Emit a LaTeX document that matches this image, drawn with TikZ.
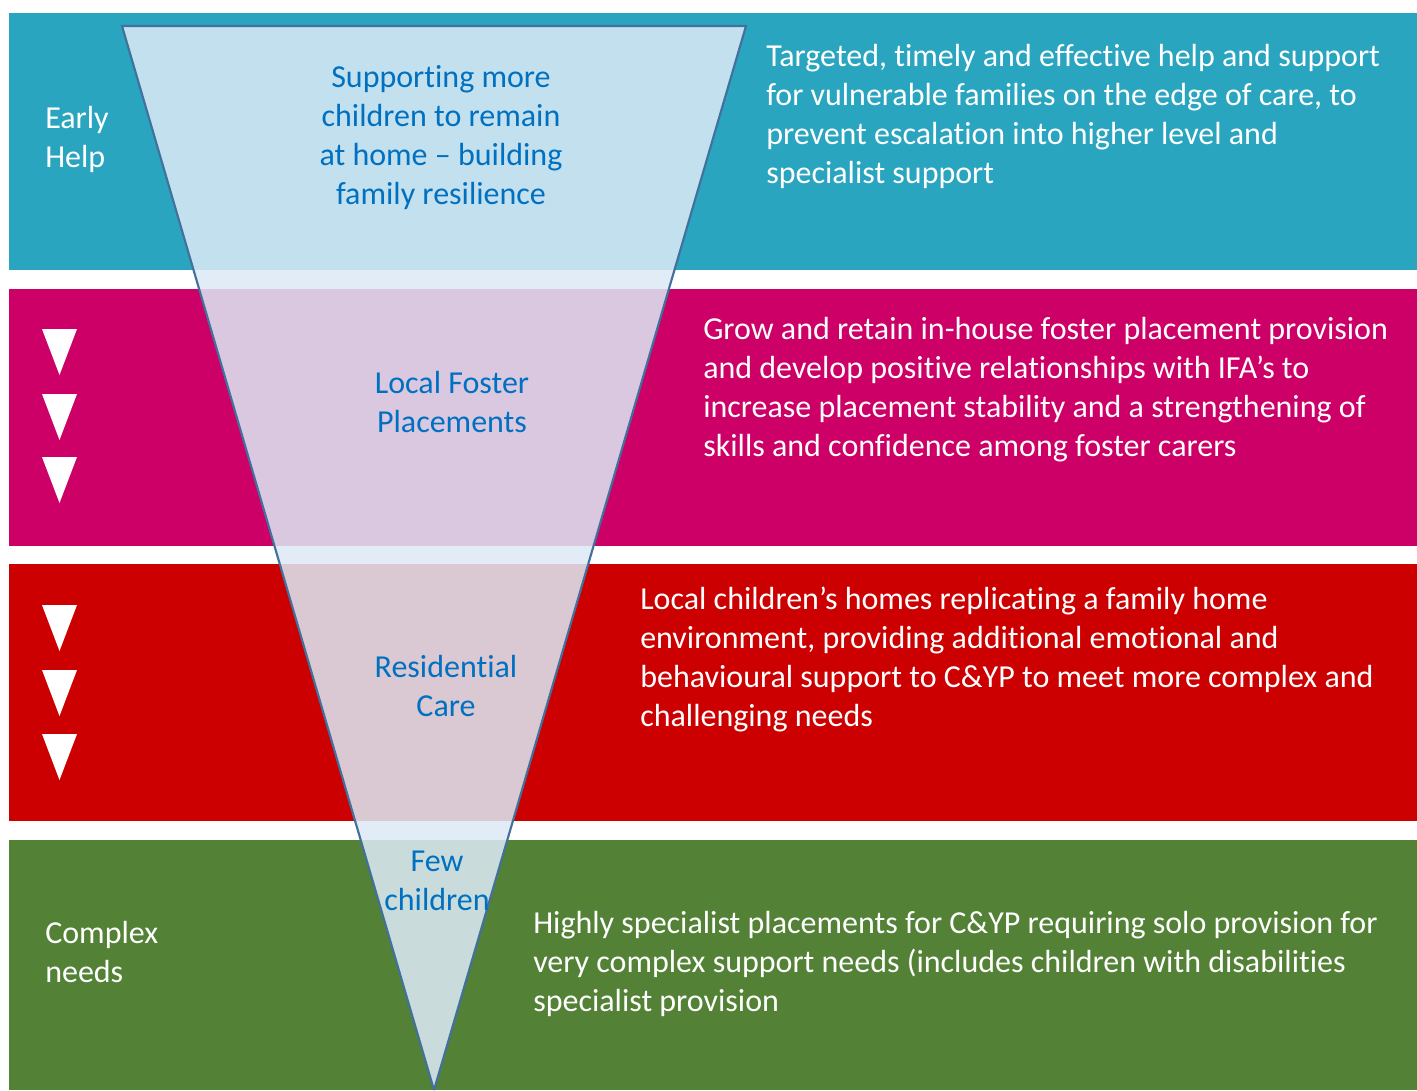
\documentclass[tikz,border=0pt]{standalone}
\usepackage{fontspec}
\setmainfont{Carlito}[Ligatures={NoCommon}]
\definecolor{bteal}{HTML}{2AA5BF}
\definecolor{bmag}{HTML}{CC0066}
\definecolor{bred}{HTML}{CC0000}
\definecolor{bgreen}{HTML}{538135}
\definecolor{funfill}{HTML}{DDEAF6}
\definecolor{funedge}{HTML}{41719C}
\definecolor{funtext}{HTML}{0070C0}
\begin{document}
\begin{tikzpicture}[x=0.75pt,y=-0.75pt,
  band/.style={fill=#1},
  txt/.style={font=\fontsize{24}{29.25}\selectfont, text=white, inner sep=0pt, align=left, anchor=base west},
  ftxt/.style={font=\fontsize{24}{29.25}\selectfont, text=funtext, inner sep=0pt, align=center, anchor=base},
  downarrow/.style={fill=white}]
\useasboundingbox (0,0) rectangle (1417,1090);
\fill[white] (0,0) rectangle (1417,1090);
% bands
\fill[band=bteal] (9,13) rectangle (1417,270);
\fill[band=bmag] (9,289) rectangle (1417,546);
\fill[band=bred] (9,564) rectangle (1417,821);
\fill[band=bgreen] (9,840) rectangle (1417,1090);
% down arrows
\foreach \t in {329,394,457,605,670,734}
  \fill[downarrow] (42,\t) -- (77,\t) -- (59.5,\t+46) -- cycle;
% funnel
\coordinate (tl) at (122,26);
\coordinate (tr) at (746,26);
\coordinate (ap) at (434,1090);
\fill[funfill, fill opacity=0.86] (tl) -- (tr) -- (ap) -- cycle;
\draw[funedge, line width=1.6pt, line join=miter] (ap) -- (tl) -- (tr) -- (ap);
% left labels (anchor = baseline of last line)
\node[txt] (early) at (45,167) {Early\\Help};
\node[txt] (complex) at (45,982) {Complex\\needs};
% funnel labels
\node[ftxt] (f1) at (441,204) {Supporting more\\children to remain\\at home -- building\\family resilience};
\node[ftxt] (f2) at (452,432) {Local Foster\\Placements};
\node[ftxt] (f3) at (446,716) {Residential\\Care};
\node[ftxt] (f4) at (437,910) {Few\\children};
% right texts
\node[txt] (r1) at (766,183) {Targeted, timely and effective help and support\\for vulnerable families on the edge of care, to\\prevent escalation into higher level and\\specialist support};
\node[txt] (r2) at (703,456) {Grow and retain in-house foster placement provision\\and develop positive relationships with IFA’s to\\increase placement stability and a strengthening of\\skills and confidence among foster carers};
\node[txt] (r3) at (640,726) {Local children’s homes replicating a family home\\environment, providing additional emotional and\\behavioural support to C\&YP to meet more complex and\\challenging needs};
\node[txt] (r4) at (533,1011) {Highly specialist placements for C\&YP requiring solo provision for\\very complex support needs (includes children with disabilities\\specialist provision};
\end{tikzpicture}
\end{document}
